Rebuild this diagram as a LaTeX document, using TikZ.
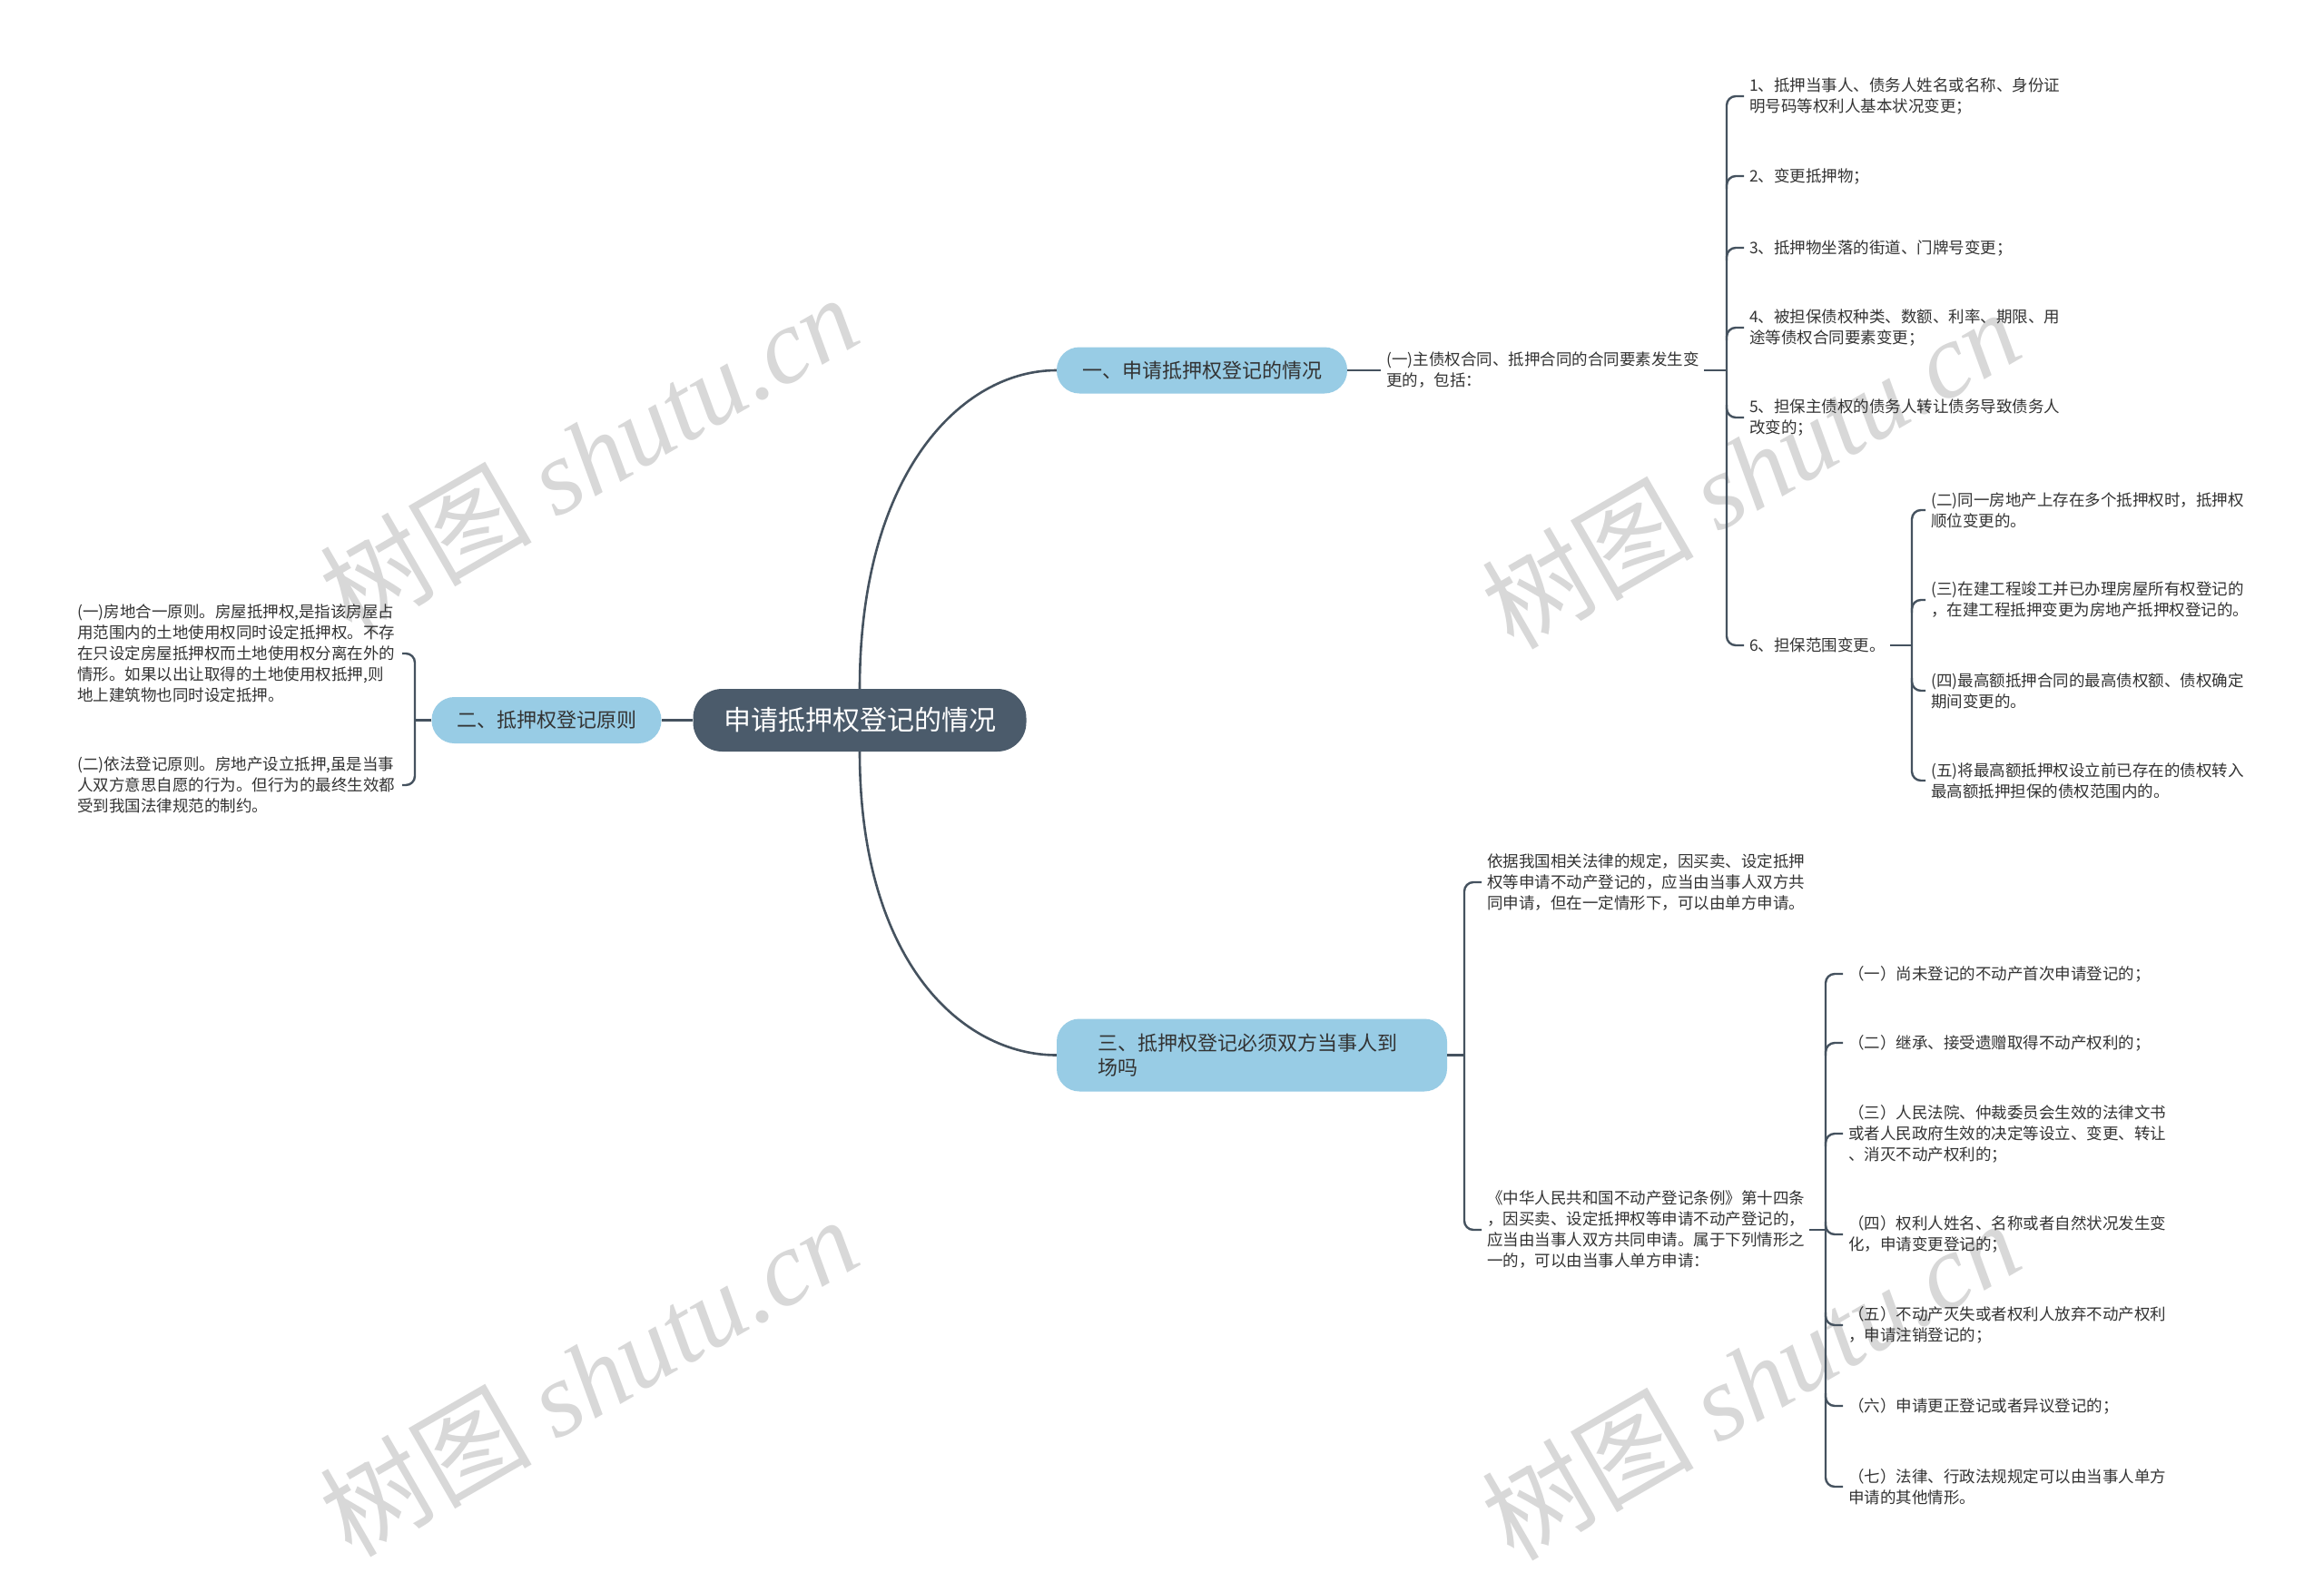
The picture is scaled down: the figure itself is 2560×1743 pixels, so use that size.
\documentclass[tikz,border=0pt]{standalone}
\usepackage{fontspec}
\setmainfont{Noto Sans CJK SC}
\newfontfamily\wmserif{Liberation Serif}
\usetikzlibrary{calc}
\definecolor{lc}{HTML}{45525F}
\definecolor{rootc}{HTML}{4B5B6B}
\definecolor{brc}{HTML}{98CCE5}
\definecolor{txt}{HTML}{333333}
\definecolor{wmc}{HTML}{D8D8D8}
\tikzset{
  mainline/.style={draw=lc, line width=2.6pt},
  bline/.style={draw=lc, line width=2.4pt, rounded corners=10pt},
  rootbox/.style={fill=rootc, rounded corners=32pt, minimum width=367pt, minimum height=69pt, text=white, inner sep=0pt, font=\fontsize{30}{35}\selectfont},
  brbox/.style={fill=brc, rounded corners=25pt, minimum height=51pt, text=txt, inner sep=0pt, font=\fontsize{22}{27}\selectfont},
  leaf/.style={align=left, text=txt, inner sep=0pt, anchor=west, font=\fontsize{17.5}{23}\selectfont},
  wmark/.style={text=wmc, rotate=30, font=\fontsize{117}{120}\selectfont},
}
\begin{document}
\begin{tikzpicture}[x=1pt,y=-1pt]
\fill[white] (0,0) rectangle (2560,1743);
\useasboundingbox (0,0) rectangle (2560,1743);

% watermarks
\node[wmark] (wm1) at (648,500) {树图 {\wmserif\itshape shutu.cn}};
\node[wmark] (wm2) at (1928,516) {树图 {\wmserif\itshape shutu.cn}};
\node[wmark] (wm3) at (648,1516) {树图 {\wmserif\itshape shutu.cn}};
\node[wmark] (wm4) at (1928,1520) {树图 {\wmserif\itshape shutu.cn}};

% main nodes
\node[rootbox] (root) at (947,793.5) {申请抵押权登记的情况};
\node[brbox, minimum width=320pt] (b1) at (1324,408) {一、申请抵押权登记的情况};
\node[brbox, minimum width=253pt] (b2) at (602,793.5) {二、抵押权登记原则};
\node[brbox, minimum width=430pt, minimum height=80pt, text width=340pt, align=left] (b3) at (1379,1162.5) {三、抵押权登记必须双方当事人到\\场吗};

% main connectors
\draw[mainline] (root.north) .. controls (947,520) and (1060,408) .. (b1.west);
\draw[mainline] (root.south) .. controls (947,1060) and (1060,1162.5) .. (b3.west);
\draw[mainline] (root.west) -- (b2.east);

% branch 1
\node[leaf] (l1) at (1527,408) {(一)主债权合同、抵押合同的合同要素发生变\\更的，包括：};
\draw[mainline] (b1.east) -- ([xshift=-6pt]l1.west);

\node[leaf] (a1) at (1927,106) {1、抵押当事人、债务人姓名或名称、身份证\\明号码等权利人基本状况变更；};
\node[leaf] (a2) at (1927,194) {2、变更抵押物；};
\node[leaf] (a3) at (1927,273) {3、抵押物坐落的街道、门牌号变更；};
\node[leaf] (a4) at (1927,361) {4、被担保债权种类、数额、利率、期限、用\\途等债权合同要素变更；};
\node[leaf] (a5) at (1927,460) {5、担保主债权的债务人转让债务导致债务人\\改变的；};
\node[leaf] (a6) at (1927,711) {6、担保范围变更。};

\coordinate (ax) at (1902,408);
\draw[mainline] ([xshift=5pt]l1.east) -- (ax);
\draw[bline] ([xshift=-6pt]a1.west) -- (ax |- a1.west) -- (ax |- a6.west) -- ([xshift=-6pt]a6.west);
\foreach \n in {a2,a3,a4} \draw[bline] ($(ax |- \n.west)+(0,14)$) -- (ax |- \n.west) -- ([xshift=-6pt]\n.west);
\foreach \n in {a5} \draw[bline] ($(ax |- \n.west)+(0,-14)$) -- (ax |- \n.west) -- ([xshift=-6pt]\n.west);

\node[leaf] (c1) at (2127,562) {(二)同一房地产上存在多个抵押权时，抵押权\\顺位变更的。};
\node[leaf] (c2) at (2127,661) {(三)在建工程竣工并已办理房屋所有权登记的\\，在建工程抵押变更为房地产抵押权登记的。};
\node[leaf] (c3) at (2127,761) {(四)最高额抵押合同的最高债权额、债权确定\\期间变更的。};
\node[leaf] (c4) at (2127,860) {(五)将最高额抵押权设立前已存在的债权转入\\最高额抵押担保的债权范围内的。};

\coordinate (cx) at (2106,711);
\draw[mainline] ([xshift=5pt]a6.east) -- (cx);
\draw[bline] ([xshift=-6pt]c1.west) -- (cx |- c1.west) -- (cx |- c4.west) -- ([xshift=-6pt]c4.west);
\draw[bline] ($(cx |- c2.west)+(0,14)$) -- (cx |- c2.west) -- ([xshift=-6pt]c2.west);
\draw[bline] ($(cx |- c3.west)+(0,-14)$) -- (cx |- c3.west) -- ([xshift=-6pt]c3.west);

% branch 3
\node[leaf] (d1) at (1638,972) {依据我国相关法律的规定，因买卖、设定抵押\\权等申请不动产登记的，应当由当事人双方共\\同申请，但在一定情形下，可以由单方申请。};
\node[leaf] (d2) at (1638,1355) {《中华人民共和国不动产登记条例》第十四条\\，因买卖、设定抵押权等申请不动产登记的，\\应当由当事人双方共同申请。属于下列情形之\\一的，可以由当事人单方申请：};

\coordinate (dx) at (1613,1162.5);
\draw[mainline] (b3.east) -- (dx);
\draw[bline] ([xshift=-6pt]d1.west) -- (dx |- d1.west) -- (dx |- d2.west) -- ([xshift=-6pt]d2.west);

\node[leaf] (e1) at (2036,1073) {（一）尚未登记的不动产首次申请登记的；};
\node[leaf] (e2) at (2036,1149) {（二）继承、接受遗赠取得不动产权利的；};
\node[leaf] (e3) at (2036,1249) {（三）人民法院、仲裁委员会生效的法律文书\\或者人民政府生效的决定等设立、变更、转让\\、消灭不动产权利的；};
\node[leaf] (e4) at (2036,1360) {（四）权利人姓名、名称或者自然状况发生变\\化，申请变更登记的；};
\node[leaf] (e5) at (2036,1460) {（五）不动产灭失或者权利人放弃不动产权利\\，申请注销登记的；};
\node[leaf] (e6) at (2036,1549) {（六）申请更正登记或者异议登记的；};
\node[leaf] (e7) at (2036,1638) {（七）法律、行政法规规定可以由当事人单方\\申请的其他情形。};

\coordinate (ex) at (2011,1355);
\draw[mainline] ([xshift=5pt]d2.east) -- (ex);
\draw[bline] ([xshift=-6pt]e1.west) -- (ex |- e1.west) -- (ex |- e7.west) -- ([xshift=-6pt]e7.west);
\foreach \n in {e2,e3} \draw[bline] ($(ex |- \n.west)+(0,14)$) -- (ex |- \n.west) -- ([xshift=-6pt]\n.west);
\foreach \n in {e4,e5,e6} \draw[bline] ($(ex |- \n.west)+(0,-14)$) -- (ex |- \n.west) -- ([xshift=-6pt]\n.west);

% branch 2 (left)
\node[leaf] (f1) at (85,720) {(一)房地合一原则。房屋抵押权,是指该房屋占\\用范围内的土地使用权同时设定抵押权。不存\\在只设定房屋抵押权而土地使用权分离在外的\\情形。如果以出让取得的土地使用权抵押,则\\地上建筑物也同时设定抵押。};
\node[leaf] (f2) at (85,865) {(二)依法登记原则。房地产设立抵押,虽是当事\\人双方意思自愿的行为。但行为的最终生效都\\受到我国法律规范的制约。};

\coordinate (fx) at (457,793.5);
\draw[mainline] (b2.west) -- (fx);
\draw[bline] ([xshift=-14pt]fx |- f1.west) -- (fx |- f1.west) -- (fx |- f2.west) -- ([xshift=-14pt]fx |- f2.west);
\end{tikzpicture}
\end{document}
